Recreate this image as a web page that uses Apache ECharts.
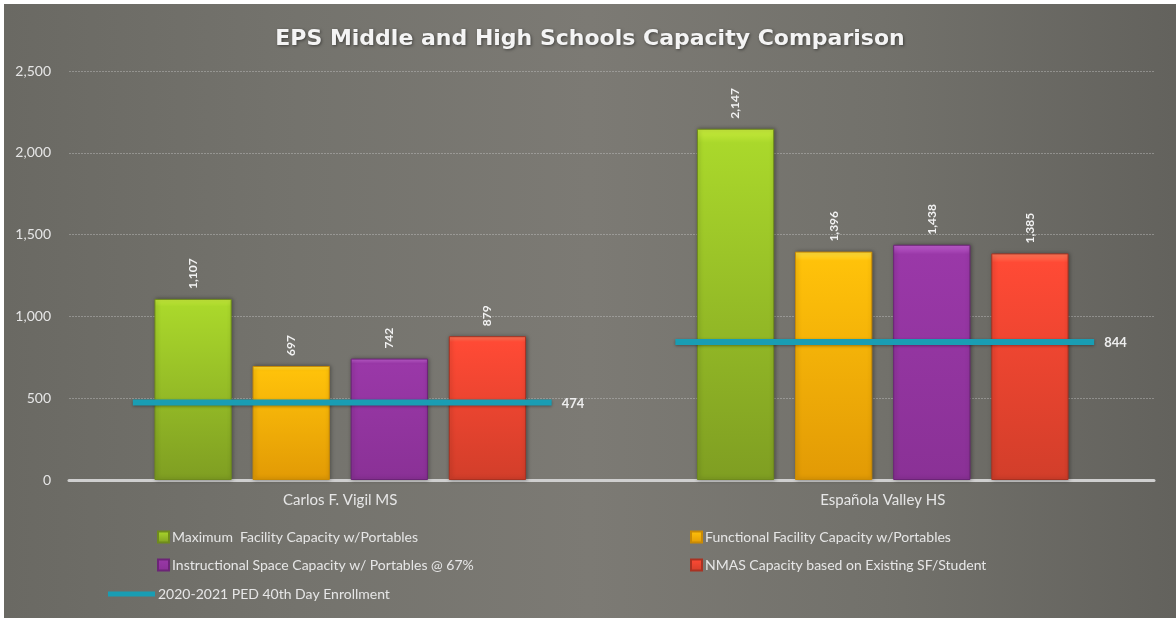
<!DOCTYPE html>
<html>
<head>
<meta charset="utf-8">
<script src="https://cdn.jsdelivr.net/npm/echarts@6/dist/echarts.min.js"></script>
<style>
html,body{margin:0;padding:0;background:#ffffff;width:1176px;height:618px;overflow:hidden;}
#chart{position:absolute;left:4px;top:4px;width:1172px;height:614px;
background:linear-gradient(90deg,#6a6963 0%,#74736d 25%,#7c7a74 50%,#72716b 75%,#63625d 100%);}
</style>
</head>
<body>
<div id="chart"></div>
<script>
const titleText = 'EPS Middle and High Schools Capacity Comparison';
const categories = ['Carlos F. Vigil MS', 'Española Valley HS'];
const seriesNames = [
  'Maximum  Facility Capacity w/Portables',
  'Functional Facility Capacity w/Portables',
  'Instructional Space Capacity w/ Portables @ 67%',
  'NMAS Capacity based on Existing SF/Student'
];
const maxFacility = [1107, 2147];
const functionalFacility = [697, 1396];
const instructionalSpace = [742, 1438];
const nmasCapacity = [879, 1385];
const enrollmentName = '2020-2021 PED 40th Day Enrollment';
const enrollment = [474, 844];
const yTicks = [0, 500, 1000, 1500, 2000, 2500];

const fmt = v => Number(v).toLocaleString('en-US');
const FONT = 'Lato, "Open Sans", sans-serif';

function grad(top, mid, bottom) {
  return new echarts.graphic.LinearGradient(0, 0, 0, 1, [
    {offset: 0, color: top},
    {offset: 0.04, color: mid},
    {offset: 1, color: bottom}
  ]);
}
const barColors = [
  {g: grad('#c8ec3c', '#aad82b', '#7f9e22'), border: '#6f8b1d'},
  {g: grad('#ffe040', '#ffc20a', '#e29a05'), border: '#c98a05'},
  {g: grad('#c060d0', '#9a38a8', '#8a3196'), border: '#6c2477'},
  {g: grad('#ff7a5a', '#ff4a35', '#d23e2a'), border: '#a93222'}
];
const barData = [maxFacility, functionalFacility, instructionalSpace, nmasCapacity];

const chart = echarts.init(document.getElementById('chart'), null, {renderer: 'canvas'});

const barSeries = barData.map((d, i) => ({
  name: seriesNames[i],
  type: 'bar',
  data: d,
  barGap: '27%',
  barCategoryGap: '31.5%',
  itemStyle: {
    color: barColors[i].g,
    borderColor: barColors[i].border,
    borderWidth: 1,
    shadowColor: 'rgba(0,0,0,0.35)',
    shadowBlur: 4,
    shadowOffsetX: 1,
    shadowOffsetY: 0
  },
  label: {
    show: true,
    position: 'top',
    rotate: 90,
    align: 'left',
    verticalAlign: 'middle',
    distance: 10,
    formatter: p => fmt(p.value),
    color: '#f2f2f2',
    fontFamily: FONT,
    fontWeight: 'bold',
    fontSize: 12
  },
  z: 2
}));

const lineSeries = {
  name: enrollmentName,
  type: 'custom',
  data: enrollment.map((v, i) => [i, v]),
  itemStyle: {color: '#199db3'},
  encode: {x: 0, y: 1},
  renderItem: function (params, api) {
    const c = api.coord([api.value(0), api.value(1)]);
    const bw = api.size([1, 0])[0];
    const half = bw * 0.386;
    const cx = c[0] + 2;
    return {
      type: 'group',
      children: [
        {
          type: 'line',
          shape: {x1: cx - half, y1: c[1], x2: cx + half, y2: c[1]},
          style: {stroke: '#199db3', lineWidth: 6, shadowColor: 'rgba(0,0,0,0.35)', shadowBlur: 3, shadowOffsetY: 1}
        },
        {
          type: 'text',
          style: {
            text: fmt(api.value(1)),
            x: cx + half + 10,
            y: c[1] + 1,
            verticalAlign: 'middle',
            align: 'left',
            fill: '#eeeeee',
            font: 'bold 13px ' + FONT
          }
        }
      ]
    };
  },
  z: 5
};

function legendFor(name, left, top, icon, w, h) {
  return {
    data: [{name: name, icon: icon}],
    left: left, top: top,
    orient: 'horizontal',
    itemWidth: w, itemHeight: h,
    itemGap: 0,
    padding: 0,
    selectedMode: false,
    textStyle: {color: '#e6e6e6', fontSize: 14, fontFamily: FONT, padding: [0, 0, 0, -2]}
  };
}

chart.setOption({
  animation: false,
  backgroundColor: 'transparent',
  title: {
    text: titleText,
    left: 'center',
    top: 19,
    textStyle: {
      color: '#f4f4f4',
      fontSize: 22,
      fontWeight: 'bold',
      fontFamily: '"DejaVu Sans", sans-serif',
      textShadowColor: 'rgba(0,0,0,0.45)',
      textShadowBlur: 3,
      textShadowOffsetX: 1,
      textShadowOffsetY: 1
    }
  },
  grid: {left: 65, right: 22, top: 67, bottom: 138, containLabel: false},
  legend: [
    legendFor(seriesNames[0], 153, 526, 'rect', 11, 11),
    legendFor(seriesNames[1], 686, 526, 'rect', 11, 11),
    legendFor(seriesNames[2], 153, 554, 'rect', 11, 11),
    legendFor(seriesNames[3], 686, 554, 'rect', 11, 11),
    legendFor(enrollmentName, 104, 583, 'rect', 47, 5)
  ],
  xAxis: {
    type: 'category',
    data: categories,
    axisLine: {show: true, lineStyle: {color: '#cfcfcf', width: 3}},
    axisTick: {show: false},
    axisLabel: {color: '#e6e6e6', fontSize: 15, fontFamily: FONT, margin: 13}
  },
  yAxis: {
    type: 'value',
    min: yTicks[0],
    max: yTicks[yTicks.length - 1],
    interval: 500,
    axisLine: {show: false},
    axisTick: {show: false},
    axisLabel: {color: '#e6e6e6', fontSize: 14, fontFamily: FONT, margin: 18, formatter: v => fmt(v)},
    splitLine: {show: true, lineStyle: {color: 'rgba(205,205,205,0.4)', type: [2, 1], width: 1}}
  },
  series: barSeries.concat([lineSeries])
});
</script>
</body>
</html>
